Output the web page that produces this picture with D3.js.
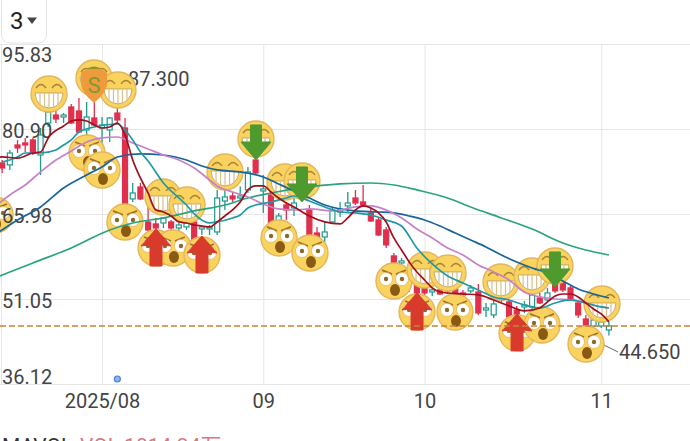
<!DOCTYPE html>
<html>
<head>
<meta charset="utf-8">
<style>
  html, body { margin: 0; padding: 0; background: #fff; overflow: hidden; }
  svg { display: block; font-family: Roboto, "Noto Sans CJK SC", sans-serif; }
</style>
<script src="https://cdn.jsdelivr.net/npm/d3@7/dist/d3.min.js"></script>
</head>
<body>
<svg id="chart" width="690" height="441"></svg>
<script>
// Trading-day offsets from the first session of August 2025
const firstDay = -13;
const opens  = [74.94,74.59,78.1,78.45,78.98,76.34,81.96,83.36,83.01,84.77,84.07,80.73,82.84,81.08,80.73,83.71,81.08,68.62,70.72,64.58,64.23,64.4,64.58,63.52,63.7,64.58,63.35,63.35,62.82,68.26,69.14,68.79,70.2,75.46,70.02,69.32,64.75,67.56,67.04,70.2,66.68,62.64,61.94,64.58,66.33,67.39,68.79,68.09,66.16,64.93,63.17,58.61,57.38,56.5,54.74,53.16,52.28,52.64,52.46,52.81,52.11,52.46,52.28,49.12,48.25,51.41,50.53,49.12,49.65,49.65,51.23,50.88,53.86,54.04,52.99,50.35,47.54,46.31,46.31,45.61];
const closes = [74.06,76.69,77.57,78.1,76.69,79.85,83.89,82.66,83.36,81.96,80.38,83.01,81.61,81.61,82.84,82.49,66.68,69.67,68.62,63.17,63.52,65.28,63.52,64.05,64.4,61.41,63.7,63.7,68.79,68.97,68.62,69.14,73.36,73.18,70.37,64.4,65.63,66.68,67.91,68.79,62.29,61.94,62.82,66.68,66.86,67.91,67.91,67.56,64.75,62.29,60.54,57.38,57.73,53.86,50.88,52.11,52.64,51.93,52.99,52.11,51.76,52.99,48.6,49.47,50.18,50.88,47.9,48.07,50,51.76,50.35,52.11,52.46,52.64,51.05,48.25,46.31,47.37,47.02,46.31];
const highs  = [75.46,77.22,78.98,79.33,79.33,81.08,84.6,84.07,83.71,85.3,86.35,85.65,87.3,83.01,83.01,85.12,82.84,71.43,71.43,67.91,65.28,65.45,64.93,64.4,65.28,64.93,64.05,64.05,70.2,70.2,69.84,70.79,74.23,76.34,72.83,70.2,66.16,68.09,68.79,70.9,67.56,63.7,64.58,67.04,68.09,69.84,70.2,71.07,67.04,65.28,63.7,59.13,58.26,57.03,55.27,53.86,52.99,52.99,53.51,53.51,52.64,53.51,53.69,50.35,50.88,52.11,50.88,49.83,50.7,52.11,52.11,52.99,54.39,54.74,53.34,50.7,48.25,47.72,47.37,47.02];
const lows   = [73.18,73.71,76.69,76.87,76.34,72.83,81.26,81.96,81.96,81.78,80.2,79.85,81.43,78.1,78.62,81.61,66.33,68.09,68.44,62.82,62.46,63.52,63.17,62.82,63.17,61.2,62.29,62.29,62.29,66.68,68.09,68.44,69.67,72.83,66.16,64.23,64.58,64.93,65.63,68.44,62.12,61.76,61.06,64.4,65.45,66.16,67.56,67.21,64.58,62.12,60,57.2,56.5,52.28,50.53,51.76,51.58,51.76,51.93,51.93,51.41,52.11,48.25,47.9,47.72,50.53,47.72,47.72,48.6,49.3,50.18,50.53,52.11,52.28,50.88,47.72,46.14,45.96,45.96,44.65];

// Moving averages as [trading day, price]
const ma5 = [[-14,75.9],[-13,75.99],[-11,75.8],[-9,76.69],[-8,76.87],[-7,79.33],[-5,81.43],[-4,82.31],[-3,82.49],[-2,82.31],[-1,81.61],[0,81.08],[1,81.26],[2,81.96],[3,79.85],[4,75.46],[5,72.3],[6,69.67],[7,66.68],[8,66.33],[9,65.63],[10,64.58],[11,64.4],[12,64.05],[13,63.87],[14,63.7],[15,64.58],[16,65.63],[17,66.68],[18,68.09],[19,70.2],[20,70.9],[21,70.9],[22,69.84],[23,68.79],[24,67.91],[25,67.21],[27,65.63],[29,64.58],[31,64.23],[32,65.28],[33,66.68],[34,67.39],[35,67.04],[36,66.16],[37,64.58],[38,61.77],[39,59.66],[40,57.55],[41,55.8],[42,54.39],[43,52.99],[44,52.28],[47,51.93],[49,51.76],[51,50.88],[53,49.83],[55,48.95],[57,49.47],[58,50.53],[59,51.58],[60,51.93],[61,51.93],[62,51.41],[63,50.35],[64,49.3],[65,48.42],[66,47.02]];
const ma10 = [[-13,75.11],[-11,75.99],[-10,76.69],[-8,76.69],[-6,77.22],[-5,78.1],[-4,78.98],[-3,80.38],[-1,81.26],[2,81.78],[3,80.73],[4,78.98],[5,76.87],[6,75.29],[8,71.43],[10,68.79],[11,67.56],[12,65.98],[14,64.4],[15,64.58],[17,65.28],[18,65.8],[19,67.04],[20,67.56],[22,68.09],[24,68.79],[25,69.14],[27,68.26],[29,67.21],[31,66.33],[33,66.16],[35,65.8],[37,64.93],[39,63.87],[41,60],[43,57.2],[45,55.09],[47,53.86],[49,52.64],[51,51.41],[53,50.88],[55,50],[57,49.47],[59,50.35],[61,50.88],[63,50.35],[65,49.65],[66,49.47]];
const ma20 = [[-14,67.21],[-12,69.32],[-10,71.07],[-8,73.36],[-6,75.46],[-4,77.04],[-2,78.62],[0,79.33],[2,79.5],[4,78.45],[6,77.4],[8,76.34],[10,75.46],[12,74.06],[14,71.95],[15,70.9],[17,69.84],[19,68.97],[21,67.74],[23,66.86],[25,66.68],[27,66.86],[30,66.51],[33,67.21],[35,67.39],[37,66.68],[39,65.28],[41,63.35],[43,61.77],[45,60],[47,58.78],[49,57.03],[51,55.8],[53,54.39],[55,52.28],[57,51.41],[59,51.05],[61,50.88],[63,50.35],[65,49.65],[66,49.47]];
const ma30 = [[-14,62.29],[-11,64.93],[-8,67.21],[-5,70.55],[-2,72.83],[0,74.23],[2,75.99],[5,76.52],[8,76.34],[11,75.46],[13,74.41],[15,73.71],[18,73.36],[21,72.48],[23,71.25],[25,70.02],[27,68.79],[29,67.56],[31,66.86],[33,66.51],[36,66.33],[38,66.16],[40,65.63],[42,64.93],[44,63.87],[46,62.64],[48,61.41],[50,60.19],[52,58.78],[54,57.55],[56,56.5],[58,55.62],[60,54.22],[62,52.81],[64,51.93],[66,51.23]];
const ma60 = [[-14,54.74],[-9,57.38],[-4,60],[1,63.17],[4,64.4],[8,65.28],[12,66.51],[16,67.56],[19,68.79],[22,69.67],[26,70.55],[31,71.25],[35,71.42],[38,71.07],[41,70.2],[45,68.79],[48,67.21],[52,65.28],[56,63.35],[60,60.89],[63,59.66],[66,58.78]];

// Sticker annotations as [trading day, price]
const grinStickers = [[-6.9,87.05],[-1.04,89.86],[2.08,87.76],[7.94,68.97],[11.07,67.56],[16.02,73.36],[20.05,79.15],[23.83,71.6],[26.04,71.78],[42.06,56.15],[45.05,55.62],[51.95,54.04],[56,55.09],[58.98,56.85],[65.1,50.18]];
const shockStickers = [[-13.93,65.8],[-1.95,76.69],[0,73.71],[2.99,64.58],[9.24,60.01],[7.03,60.01],[13.02,58.78],[23.05,61.77],[27.08,59.13],[38.02,54.2],[41.02,48.77],[45.96,48.77],[54.04,45.09],[57.29,46.49],[63.02,43.15]];
const buyArrows = [[7.03,60.01],[13.02,58.78],[41.02,48.77],[54.04,45.09]];
const sellArrows = [[20.05,79.15],[26.04,71.78],[58.98,56.85]];
const sellPin = [-1.04, 89.86];
const eventDot = [2, 37];

const yTicks = [95.83, 80.90, 65.98, 51.05, 36.12];
const monthDays = [0, 21, 42, 65];
const monthLabels = ["2025/08", "09", "10", "11"];
const highLabel = "87.300";
const lowLabel = "44.650";

const RED = "#e0304e", GREEN = "#1f9a8c";
const svg = d3.select("#chart");
const x = d3.scaleLinear().domain([0, 66]).range([102, 608.9]);
const y = d3.scaleLinear().domain([36.12, 95.83]).range([384, 44]);
const W = 690;

// Period selector in the top-left corner
svg.append("rect").attr("x", 1.5).attr("y", -8).attr("width", 45).attr("height", 51).attr("rx", 8)
  .attr("fill", "#fff").attr("stroke", "#e4e4e4").attr("stroke-width", 1);
svg.append("text").attr("x", 10).attr("y", 29).attr("font-size", 24).attr("fill", "#222").text("3");
svg.append("path").attr("d", "M27 17.5 L37 17.5 L32 24 Z").attr("fill", "#444");

// Grid and month axis
const xAxis = d3.axisBottom(x).tickValues(monthDays).tickSize(-340).tickPadding(10)
  .tickFormat((d, i) => monthLabels[i]);
const gx = svg.append("g").attr("transform", "translate(0,384)").call(xAxis);
gx.select(".domain").remove();
gx.selectAll("line").attr("stroke", "#e6e6e6");
gx.selectAll("text").attr("font-size", 20).attr("fill", "#444").attr("font-family", "Roboto");

const gridY = svg.append("g").call(d3.axisLeft(y).tickValues(yTicks).tickSize(-W).tickFormat(""));
gridY.select(".domain").remove();
gridY.selectAll("line").attr("stroke", "#e6e6e6");
svg.append("line").attr("x1", 1.5).attr("x2", 1.5).attr("y1", 44).attr("y2", 384).attr("stroke", "#e6e6e6");

// Candles: red filled when falling, green hollow when rising
const candles = opens.map((o, i) => ({ day: firstDay + i, o, c: closes[i], h: highs[i], l: lows[i] }));
const candle = svg.append("g").selectAll("g").data(candles).join("g");
candle.append("line")
  .attr("x1", d => x(d.day)).attr("x2", d => x(d.day))
  .attr("y1", d => y(d.h)).attr("y2", d => y(d.l))
  .attr("stroke", d => d.c < d.o ? RED : GREEN).attr("stroke-width", 1.3);
candle.append("rect")
  .attr("x", d => x(d.day) - 2.5).attr("width", 5)
  .attr("y", d => y(Math.max(d.o, d.c)))
  .attr("height", d => Math.max(1, Math.abs(y(d.o) - y(d.c))))
  .attr("fill", d => d.c < d.o ? RED : "#fff")
  .attr("stroke", d => d.c < d.o ? RED : GREEN).attr("stroke-width", 1.2);

// Extreme value labels
svg.append("text").attr("x", 128).attr("y", 86).attr("font-size", 20).attr("fill", "#444").text(highLabel);
svg.append("text").attr("x", 619).attr("y", 359).attr("font-size", 20).attr("fill", "#444").text(lowLabel);
svg.append("line").attr("x1", x(63) + 18).attr("y1", y(43.15) + 1).attr("x2", 618).attr("y2", 352)
  .attr("stroke", "#666").attr("stroke-width", 1);

// Event dot near the bottom axis
svg.append("circle").attr("cx", x(eventDot[0])).attr("cy", y(eventDot[1])).attr("r", 3)
  .attr("fill", "#8cb2ec").attr("stroke", "#4a7fd8").attr("stroke-width", 1.2);

// Sticker faces
const FACE = "#fad35e", RIM = "#e3b65c", BROWN = "#8a5a14";
function drawGrin(g) {
  g.append("circle").attr("r", 18).attr("fill", FACE).attr("stroke", RIM).attr("stroke-width", 1.4);
  g.append("path").attr("d", "M-13,-6 Q-8,-13 -3,-6 M3,-6 Q8,-13 13,-6")
    .attr("fill", "none").attr("stroke", "#a9823c").attr("stroke-width", 1.4);
  g.append("path").attr("d", "M-14,-1 L14,-1 Q13,13 0,14 Q-13,13 -14,-1 Z")
    .attr("fill", "#fff").attr("stroke", "#c4a05c").attr("stroke-width", 0.9);
  g.append("path").attr("d", "M-9,-1 V10 M-4.5,-1 V13 M0,-1 V14 M4.5,-1 V13 M9,-1 V10")
    .attr("stroke", "#d8bf8c").attr("stroke-width", 1.2);
}
function drawShock(g) {
  g.append("circle").attr("r", 18).attr("fill", FACE).attr("stroke", RIM).attr("stroke-width", 1.4);
  g.append("path").attr("d", "M-12,-11 L-2,-7 M12,-11 L2,-7")
    .attr("stroke", "#a0742a").attr("stroke-width", 1.8).attr("fill", "none");
  [-8, 8].forEach(ex => {
    g.append("circle").attr("cx", ex).attr("cy", -2).attr("r", 6.5)
      .attr("fill", "#fff").attr("stroke", "#d9b45e").attr("stroke-width", 0.7);
    g.append("circle").attr("cx", ex).attr("cy", -2).attr("r", 2.2).attr("fill", "#8a6a2c");
  });
  g.append("ellipse").attr("cx", 1).attr("cy", 9).attr("rx", 5).attr("ry", 6).attr("fill", BROWN);
}
const at = d => `translate(${x(d[0])},${y(d[1])})`;
const stickers = svg.append("g");
// Faces are layered in date order, so later stickers overlap earlier ones
const faces = grinStickers.map(p => ({ p, draw: drawGrin }))
  .concat(shockStickers.map(p => ({ p, draw: drawShock })))
  .sort((a, b) => a.p[0] - b.p[0]);
faces.forEach(f => f.draw(stickers.append("g").attr("transform", at(f.p))));

// Price axis labels sit inside the plot, above the faces
const labelY = svg.append("g").call(d3.axisLeft(y).tickValues(yTicks).tickSize(0).tickFormat(d3.format(".2f")));
labelY.select(".domain").remove();
labelY.selectAll("text").attr("x", 2).attr("text-anchor", "start").attr("dy", null)
  .attr("y", (d, i) => i === 0 ? 17 : (i === 4 ? -0.5 : 8.5))
  .attr("font-size", 20).attr("fill", "#444").attr("font-family", "Roboto");

// Moving average lines
const line = d3.line().x(d => x(d[0])).y(d => y(d[1])).curve(d3.curveMonotoneX);
const maSeries = [
  [ma60, "#2aa37f"], [ma30, "#17659b"], [ma20, "#c681c9"], [ma10, "#1f9aa5"], [ma5, "#a20f1e"]
];
svg.append("g").selectAll("path").data(maSeries).join("path")
  .attr("d", d => line(d[0])).attr("fill", "none")
  .attr("stroke", d => d[1]).attr("stroke-width", 1.7);

// Buy and sell arrows on top of the faces
svg.append("g").selectAll("path").data(buyArrows).join("path")
  .attr("transform", at)
  .attr("d", "M0,-19 L15,-2 L6,-3 L6,18 L-6,18 L-6,-3 L-15,-2 Z")
  .attr("fill", "#d83a2c").attr("stroke", "#d83a2c").attr("stroke-linejoin", "round");
svg.append("g").selectAll("path").data(sellArrows).join("path")
  .attr("transform", at)
  .attr("d", "M-5.5,-14 L5.5,-14 L5.5,3 L15,3 L0,21 L-15,3 L-5.5,3 Z")
  .attr("fill", "#4f9a2e").attr("stroke", "#4f9a2e").attr("stroke-linejoin", "round");

// Sell pin with its letter
const pin = svg.append("g").attr("transform", at(sellPin));
pin.append("path").attr("d", "M-6,-10 Q0,-13 6,-10 L6,-7 L-6,-7 Z").attr("fill", "#7f9a2c");
pin.append("path").attr("d", "M-13,-5 Q-7,-10 0,-9 Q7,-10 13,-5 L13,7 Q11,16 1,24 L0,25 L-1,24 Q-11,16 -13,7 Z")
  .attr("fill", "#ee9a3d");
pin.append("text").attr("y", 15).attr("text-anchor", "middle").attr("font-size", 22)
  .attr("fill", "#7f9a2c").text("S");

// Latest price line
svg.append("line").attr("x1", 0).attr("x2", W)
  .attr("y1", y(closes[closes.length - 1])).attr("y2", y(closes[closes.length - 1]))
  .attr("stroke", "#c5843a").attr("stroke-width", 1.5).attr("stroke-dasharray", "6,3");

// Volume indicator heading, cut off by the bottom edge
svg.append("text").attr("x", 2).attr("y", 453).attr("font-size", 21).attr("fill", "#333").text("MAVOL");
svg.append("text").attr("x", 80).attr("y", 453).attr("font-size", 21).attr("fill", "#d9777f").text("VOL:1814.34万");
</script>
</body>
</html>
